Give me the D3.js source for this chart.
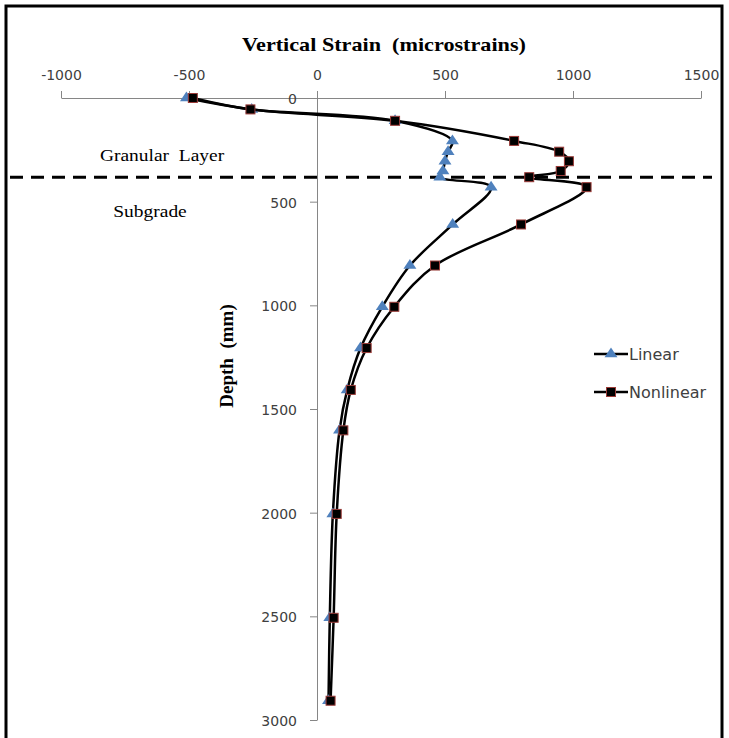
<!DOCTYPE html>
<html>
<head>
<meta charset="utf-8">
<script src="https://cdn.jsdelivr.net/npm/d3@7"></script>
<style>
  body { margin: 0; background: #fff; }
  text { white-space: pre; }
</style>
</head>
<body>
<svg id="svg"></svg>
<script>
var width = 729, height = 738;

// depth of each reading (mm)
var depths = [0, 55, 110, 207, 259, 305, 352, 382, 430, 610, 808, 1007, 1206, 1408, 1603, 2006, 2507, 2907];
// vertical strain (microstrains)
var linear = [-510, -255, 305, 529, 512, 500, 492, 480, 680, 530, 363, 255, 170, 118, 88, 62, 50, 45];
var nonlinear = [-485, -260, 305, 770, 946, 984, 952, 829, 1053, 797, 461, 302, 194, 132, 103, 77, 65, 53];

var strainTicks = [-1000, -500, 0, 500, 1000, 1500];
var depthTicks = [0, 500, 1000, 1500, 2000, 2500, 3000];
var interfaceDepth = 382;
var seriesNames = ["Linear", "Nonlinear"];

var svg = d3.select("#svg")
	.attr("width", width)
	.attr("height", height);

svg.append("rect")
	.attr("width", width).attr("height", height)
	.attr("fill", "#fff");

// outer frame
svg.append("rect")
	.attr("x", 6).attr("y", 6)
	.attr("width", 716).attr("height", 780)
	.attr("fill", "none")
	.attr("stroke", "#000")
	.attr("stroke-width", 3);

var x = d3.scaleLinear()
	.domain([-1000, 1500])
	.range([61, 701]);

var y = d3.scaleLinear()
	.domain([0, 3000])
	.range([98, 720]);

var tickFont = "DejaVu Sans, sans-serif";
var serif = "Liberation Serif, Times New Roman, serif";
var stretch = 1.18;

// axes
var xAxis = d3.axisTop(x)
	.tickValues(strainTicks)
	.tickFormat(function(d) { return String(d); })
	.tickSizeInner(7)
	.tickSizeOuter(0)
	.tickPadding(11);

var yAxis = d3.axisLeft(y)
	.tickValues(depthTicks)
	.tickFormat(function(d) { return String(d); })
	.tickSizeInner(7)
	.tickSizeOuter(0)
	.tickPadding(13);

var gx = svg.append("g")
	.attr("transform", "translate(0," + y(0) + ")")
	.call(xAxis);
var gy = svg.append("g")
	.attr("transform", "translate(" + x(0) + ",0)")
	.call(yAxis);

[gx, gy].forEach(function(g) {
	g.select(".domain").attr("stroke", "#868686").attr("stroke-width", 1);
	g.selectAll(".tick line").attr("stroke", "#868686");
	g.selectAll(".tick text")
		.attr("fill", "#404040")
		.attr("font-family", tickFont)
		.attr("font-size", "14px");
});
gy.selectAll(".tick text").attr("dy", "0.4em");

// axis titles
svg.append("text")
	.attr("transform", "translate(384,51) scale(" + stretch + ",1)")
	.attr("text-anchor", "middle")
	.attr("font-family", serif)
	.attr("font-weight", "bold")
	.attr("font-size", "18.8px")
	.attr("fill", "#000")
	.text("Vertical Strain  (microstrains)");

svg.append("text")
	.attr("transform", "translate(233,356) rotate(-90)")
	.attr("text-anchor", "middle")
	.attr("font-family", serif)
	.attr("font-weight", "bold")
	.attr("font-size", "19px")
	.attr("fill", "#000")
	.text("Depth  (mm)");

// layer interface
svg.append("line")
	.attr("x1", 10).attr("x2", 712)
	.attr("y1", y(interfaceDepth)).attr("y2", y(interfaceDepth))
	.attr("stroke", "#000")
	.attr("stroke-width", 3)
	.attr("stroke-dasharray", "13,8");

svg.append("text")
	.attr("transform", "translate(162,161) scale(" + stretch + ",1)")
	.attr("text-anchor", "middle")
	.attr("font-family", serif)
	.attr("font-size", "16.5px")
	.attr("fill", "#000")
	.text("Granular  Layer");

svg.append("text")
	.attr("transform", "translate(150,217) scale(" + stretch + ",1)")
	.attr("text-anchor", "middle")
	.attr("font-family", serif)
	.attr("font-size", "16.5px")
	.attr("fill", "#000")
	.text("Subgrade");

// series
var lineGenerator = d3.line()
	.x(function(d) { return x(d[0]); })
	.y(function(d) { return y(d[1]); })
	.curve(d3.curveCatmullRom.alpha(0.5));

var triangle = d3.symbol().type(d3.symbolTriangle).size(55);

function drawTriangle(g, px, py) {
	g.append("path")
		.attr("d", triangle())
		.attr("transform", "translate(" + px + "," + py + ") scale(1.15,1)")
		.attr("fill", "#4F81BD");
}

function drawSquare(g, px, py) {
	g.append("rect")
		.attr("x", px - 4.5).attr("y", py - 4.5)
		.attr("width", 9).attr("height", 9)
		.attr("fill", "#000")
		.attr("stroke", "#9B3B38")
		.attr("stroke-width", 1);
}

var linPts = d3.zip(linear, depths);
var nonPts = d3.zip(nonlinear, depths);

var gLin = svg.append("g");
gLin.append("path")
	.attr("fill", "none")
	.attr("stroke", "#000")
	.attr("stroke-width", 2.5)
	.attr("stroke-linejoin", "round")
	.attr("d", lineGenerator(linPts));
linPts.forEach(function(p) { drawTriangle(gLin, x(p[0]), y(p[1])); });

var gNon = svg.append("g");
gNon.append("path")
	.attr("fill", "none")
	.attr("stroke", "#000")
	.attr("stroke-width", 2.5)
	.attr("stroke-linejoin", "round")
	.attr("d", lineGenerator(nonPts));
nonPts.forEach(function(p) { drawSquare(gNon, x(p[0]), y(p[1])); });

// legend
var legend = svg.append("g").attr("class", "legend");
var legendY = [354, 392];
seriesNames.forEach(function(name, i) {
	legend.append("line")
		.attr("x1", 594).attr("x2", 628)
		.attr("y1", legendY[i]).attr("y2", legendY[i])
		.attr("stroke", "#000")
		.attr("stroke-width", 2.5);
	if (i === 0) drawTriangle(legend, 611, legendY[i]);
	else drawSquare(legend, 611, legendY[i]);
	legend.append("text")
		.attr("x", 629)
		.attr("y", legendY[i])
		.attr("dy", "0.36em")
		.attr("font-family", tickFont)
		.attr("font-size", "16px")
		.attr("fill", "#404040")
		.text(name);
});
</script>
</body>
</html>
